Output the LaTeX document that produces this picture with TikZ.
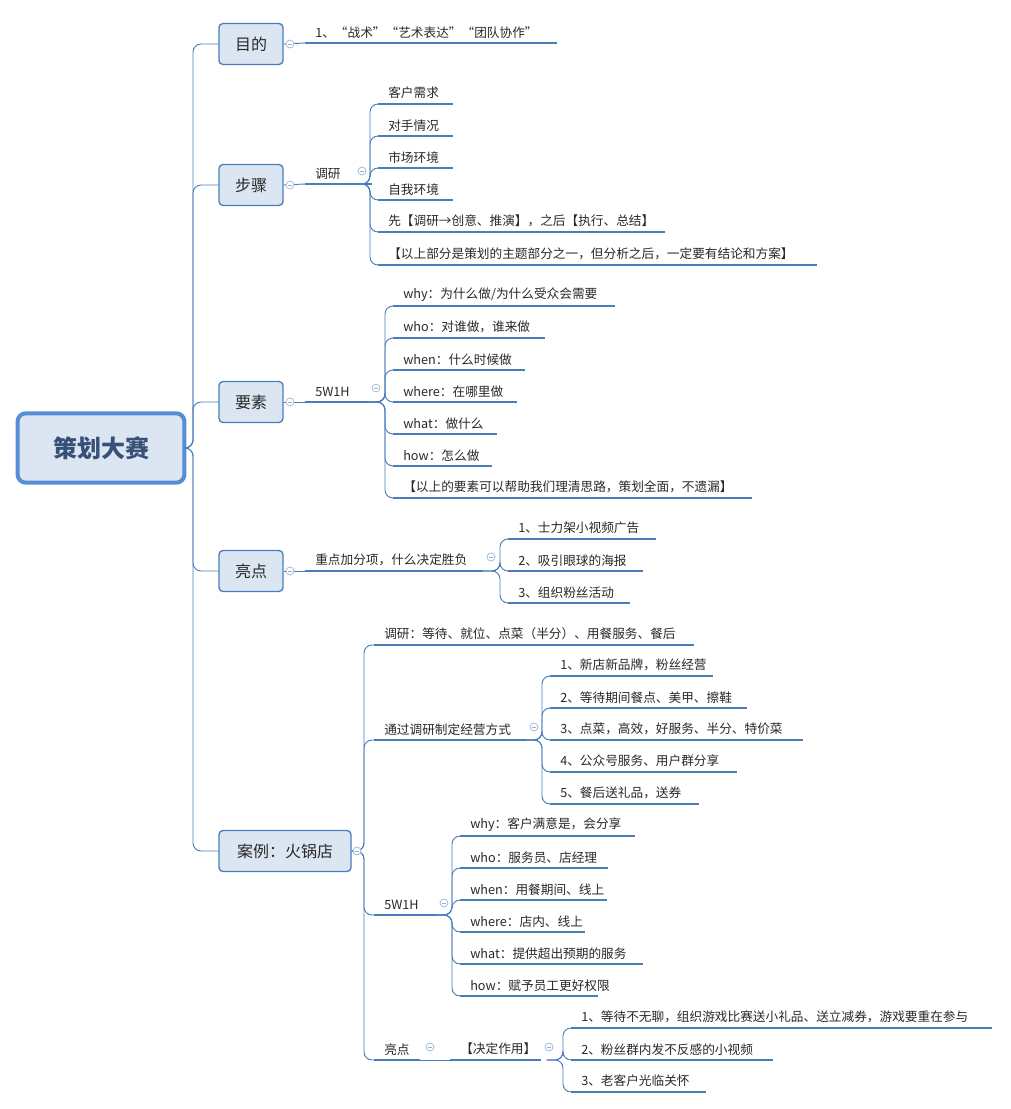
\documentclass[tikz,border=0pt]{standalone}
\usepackage{fontspec}
\newfontfamily\cjk{Noto Sans CJK SC}
\usetikzlibrary{positioning}
\definecolor{lineblue}{RGB}{74,126,187}
\definecolor{rootblue}{RGB}{85,142,213}
\definecolor{boxfill}{RGB}{220,230,242}
\definecolor{inkgray}{RGB}{40,40,40}
\definecolor{roottext}{RGB}{55,80,120}
\tikzset{
  box/.style={rectangle, rounded corners=3pt, draw=lineblue, line width=1pt, fill=boxfill,
    minimum width=48pt, minimum height=30.75pt, font=\cjk\fontsize{12}{14}\selectfont, text=inkgray},
  rootbox/.style={box, draw=rootblue, line width=3pt, rounded corners=6pt, minimum width=125pt, minimum height=52pt,
    font=\cjk\bfseries\fontsize{18}{20}\selectfont, text=roottext},
  leaf/.style={anchor=south west, inner xsep=7.5pt, inner ysep=3.5pt,
    font=\cjk\fontsize{9.5}{11}\selectfont, text=inkgray},
  bline/.style={draw=lineblue, line width=1.5pt},
  conn/.style={draw=lineblue, line width=0.7pt, rounded corners=6pt},
  fold/.style={draw=lineblue!60, fill=white, line width=0.5pt}
}
\begin{document}
\begin{tikzpicture}[x=0.75pt, y=-0.75pt]
\useasboundingbox (0,0) rectangle (1010,1109);

% main topics
\node (root) [rootbox] at (101,448) {策划大赛};
\node (aim)  [box] at (251,44) {目的};
\node (step) [box] at (251,185) {步骤};
\node (elem) [box] at (251,402) {要素};
\node (high) [box] at (251,571) {亮点};
\node (case) [box, minimum width=99pt] at (285,851) {案例：火锅店};

\foreach \b in {aim,step,elem,high,case}
  \draw[conn] (root.east) -- (193,448) |- (\b.west);

% aim
\node (aim1) [leaf] at (305,43) {1、“战术”“艺术表达”“团队协作”};
\draw[conn] (aim.east) -- (aim1.south west);

% steps
\node (res) [leaf] at (305,184) {调研};
\draw[conn] (step.east) -- (res.south west);
\node (res1) [leaf] at (378,104) {客户需求};
\node (res2) [leaf] at (378,136) {对手情况};
\node (res3) [leaf] at (378,168) {市场环境};
\node (res4) [leaf] at (378,200) {自我环境};
\node (res5) [leaf] at (378,232) {先【调研→创意、推演】，之后【执行、总结】};
\node (res6) [leaf] at (378,265) {【以上部分是策划的主题部分之一，但分析之后，一定要有结论和方案】};
\foreach \c in {res1,res2,res3,res4,res5,res6}
  \draw[conn] (res.south east) -- (370,184) |- (\c.south west);

% elements
\node (w5) [leaf] at (305,402) {5W1H};
\draw[conn] (elem.east) -- (w5.south west);
\node (why)   [leaf] at (393,306) {why：为什么做/为什么受众会需要};
\node (who)   [leaf] at (393,338) {who：对谁做，谁来做};
\node (when)  [leaf] at (393,370) {when：什么时候做};
\node (where) [leaf] at (393,402) {where：在哪里做};
\node (what)  [leaf] at (393,434) {what：做什么};
\node (how)   [leaf] at (393,466) {how：怎么做};
\node (sum)   [leaf] at (393,498) {【以上的要素可以帮助我们理清思路，策划全面，不遗漏】};
\foreach \c in {why,who,when,where,what,how,sum}
  \draw[conn] (w5.south east) -- (385,402) |- (\c.south west);

% highlights
\node (key) [leaf] at (305,571) {重点加分项，什么决定胜负};
\draw[conn] (high.east) -- (key.south west);
\node (key1) [leaf] at (508,539) {1、士力架小视频广告};
\node (key2) [leaf] at (508,571) {2、吸引眼球的海报};
\node (key3) [leaf] at (508,603) {3、组织粉丝活动};
\foreach \c in {key1,key2,key3}
  \draw[conn] (key.south east) -- (500,571) |- (\c.south west);

% case
\node (cres)  [leaf] at (374,645) {调研：等待、就位、点菜（半分）、用餐服务、餐后};
\node (cway)  [leaf] at (374,740) {通过调研制定经营方式};
\node (cw5)   [leaf] at (374,915) {5W1H};
\node (chigh) [leaf] at (374,1060) {亮点};
\foreach \c in {cres,cway,cw5,chigh}
  \draw[conn] (case.east) -- (364,851) |- (\c.south west);

\node (way1) [leaf] at (550,676) {1、新店新品牌，粉丝经营};
\node (way2) [leaf] at (550,708) {2、等待期间餐点、美甲、擦鞋};
\node (way3) [leaf] at (550,740) {3、点菜，高效，好服务、半分、特价菜};
\node (way4) [leaf] at (550,772) {4、公众号服务、用户群分享};
\node (way5) [leaf] at (550,804) {5、餐后送礼品，送券};
\foreach \c in {way1,way2,way3,way4,way5}
  \draw[conn] (cway.south east) -- (542,740) |- (\c.south west);

\node (cwhy)   [leaf] at (460,836) {why：客户满意是，会分享};
\node (cwho)   [leaf] at (460,868) {who：服务员、店经理};
\node (cwhen)  [leaf] at (460,900) {when：用餐期间、线上};
\node (cwhere) [leaf] at (460,932) {where：店内、线上};
\node (cwhat)  [leaf] at (460,964) {what：提供超出预期的服务};
\node (chow)   [leaf] at (460,996) {how：赋予员工更好权限};
\foreach \c in {cwhy,cwho,cwhen,cwhere,cwhat,chow}
  \draw[conn] (cw5.south east) -- (452,915) |- (\c.south west);

\node (dec) [leaf] at (450,1060) {【决定作用】};
\draw[conn] (chigh.south east) -- (dec.south west);
\node (dec1) [leaf] at (571,1028) {1、等待不无聊，组织游戏比赛送小礼品、送立减券，游戏要重在参与};
\node (dec2) [leaf] at (571,1060) {2、粉丝群内发不反感的小视频};
\node (dec3) [leaf] at (571,1092) {3、老客户光临关怀};
\foreach \c in {dec1,dec2,dec3}
  \draw[conn] (dec.south east) -- (563,1060) |- (\c.south west);

% underlines
\foreach \n/\l in {aim1/252,res/67,res1/75,res2/75,res3/75,res4/75,res5/287,res6/439,
  w5/63,why/222,who/152,when/132,where/124,what/104,how/99,sum/359,
  key/178,key1/148,key2/135,key3/122,
  cres/320,cway/152,cw5/63,chigh/46,way1/163,way2/197,way3/253,way4/187,way5/149,
  cwhy/175,cwho/148,cwhen/147,cwhere/125,cwhat/183,chow/138,
  dec/91,dec1/421,dec2/202,dec3/135}
  \draw[bline] (\n.south west) -- ++(\l,0);

% fold markers
\foreach \p in {(290,44),(290,185),(290,402),(290,571),(357,851),
  (362,171),(376,388),(491,557),(534,727),(444,903),(430,1047),(549,1047)}{
  \draw[fold] \p circle (4);
  \draw[lineblue!60, line width=0.5pt] \p ++(-2.2,0) -- ++(4.4,0);
}
\end{tikzpicture}
\end{document}
